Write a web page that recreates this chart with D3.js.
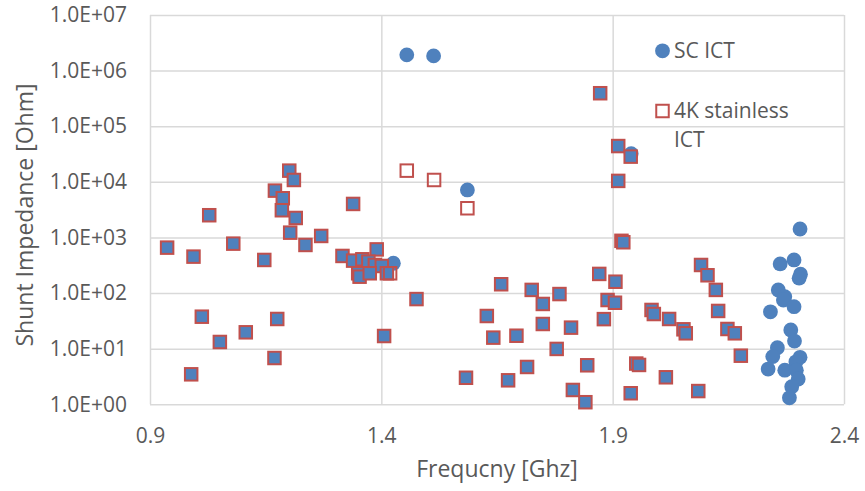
<!DOCTYPE html>
<html>
<head>
<meta charset="utf-8">
<script src="https://cdn.jsdelivr.net/npm/d3@7"></script>
<style>
    body { margin: 0; background: #fff; }
    text { font-family: "Open Sans", sans-serif; fill: #595959; }
</style>
</head>
<body>
<div id="chartContainer"></div>
<script>
// points where both ICTs give the same value (drawn as filled squares)
const sharedFreq = [0.937, 0.994, 1.028, 1.080, 1.147, 1.201, 1.211, 1.170, 1.187, 1.185,
    1.215, 1.203, 1.236, 1.270, 1.339, 1.316, 1.390, 1.012, 1.051, 1.107,
    1.175, 1.169, 0.989, 1.406, 1.339, 1.359, 1.372, 1.386, 1.401, 1.350,
    1.353, 1.375, 1.412, 1.476, 1.659, 1.725, 1.749, 1.785, 1.871, 1.906,
    1.889, 1.905, 1.881, 1.628, 1.642, 1.692, 1.749, 1.810, 1.779, 1.583,
    1.674, 1.715, 1.845, 1.814, 1.841, 1.939, 1.951, 1.957, 2.015, 2.085,
    1.984, 1.989, 2.022, 2.053, 2.058, 2.091, 2.105, 2.123, 2.128, 2.148,
    2.164, 2.177, 1.873, 1.912, 1.939, 1.912, 1.919, 1.923];
const sharedZ = [656, 452, 2510, 774, 394, 15900, 10800, 6950, 5070, 3085,
    2240, 1220, 733, 1064, 4005, 465, 610, 37.6, 13.2, 19.7,
    34.2, 6.8, 3.46, 16.9, 383, 405, 367, 320, 307, 227,
    197, 227, 227, 78, 144, 114, 63.7, 96, 221, 160,
    75, 67, 34, 38.7, 15.8, 17.1, 27.8, 23.9, 9.9, 3.0,
    2.7, 4.69, 5.03, 1.81, 1.09, 1.58, 5.4, 5.1, 3.06, 1.73,
    49.7, 42, 34.2, 22.3, 18.9, 320, 209, 114, 47.7, 22.6,
    18.9, 7.48, 392000, 44000, 28400, 10400, 870, 820];

// SC ICT only
const scFreq = [1.455, 1.513, 1.586, 1.940, 1.426, 2.305, 2.262, 2.292, 2.306, 2.303,
    2.258, 2.272, 2.269, 2.292, 2.241, 2.285, 2.293, 2.256, 2.246, 2.305,
    2.296, 2.236, 2.272, 2.297, 2.301, 2.287, 2.282];
const scZ = [1920000, 1840000, 7150, 32000, 344, 1420, 334, 394, 218, 185,
    114, 86, 75, 57, 46, 21.7, 13.7, 10.4, 7.2, 7.0,
    5.8, 4.3, 4.1, 4.1, 2.85, 2.07, 1.31];

// 4K stainless ICT only
const ssFreq = [1.455, 1.514, 1.586, 1.419];
const ssZ = [15900, 10800, 3350, 227];

const xTicks = [0.9, 1.4, 1.9, 2.4];
const xTickLabels = ["0.9", "1.4", "1.9", "2.4"];
const yTicks = [1, 10, 100, 1000, 10000, 100000, 1000000, 10000000];
const yTickLabels = ["1.0E+00", "1.0E+01", "1.0E+02", "1.0E+03", "1.0E+04", "1.0E+05", "1.0E+06", "1.0E+07"];
const legendLabels = ["SC ICT", "4K stainless", "ICT"];

const width = 865;
const height = 491;
const plotLeft = 150, plotRight = 844, plotTop = 15, plotBottom = 404.3;
const blue = '#4f81bd';
const red = '#c0504d';
const gridColor = '#d9d9d9';

const svg = d3.select("#chartContainer")
    .append('svg')
    .attr("width", width)
    .attr("height", height);

const x = d3.scaleLinear().domain([0.9, 2.4]).range([plotLeft, plotRight]);
const y = d3.scaleLog().domain([1, 1e7]).range([plotBottom, plotTop]);

// grid
const yGrid = svg.append('g')
    .attr("transform", `translate(${plotLeft},0)`)
    .call(d3.axisLeft(y).tickValues(yTicks).tickSize(-(plotRight - plotLeft)).tickFormat(""));
const xGrid = svg.append('g')
    .attr("transform", `translate(0,${plotBottom})`)
    .call(d3.axisBottom(x).tickValues(xTicks).tickSize(-(plotBottom - plotTop)).tickFormat(""));
[yGrid, xGrid].forEach(g => {
    g.select(".domain").remove();
    g.selectAll("line").attr("stroke", gridColor).attr("stroke-width", 1.5);
});

// tick labels
const yAxis = svg.append('g')
    .attr("transform", `translate(${plotLeft},0)`)
    .call(d3.axisLeft(y).tickValues(yTicks).tickSize(0).tickPadding(23)
        .tickFormat((d, i) => yTickLabels[i]));
const xAxis = svg.append('g')
    .attr("transform", `translate(0,${plotBottom})`)
    .call(d3.axisBottom(x).tickValues(xTicks).tickSize(0).tickPadding(24)
        .tickFormat((d, i) => xTickLabels[i]));
[yAxis, xAxis].forEach(g => {
    g.select(".domain").remove();
    g.selectAll("text").attr("font-size", 21).attr("font-family", '"Open Sans", sans-serif').attr("fill", '#595959');
});

// axis titles
svg.append('text')
    .attr("x", (plotLeft + plotRight) / 2)
    .attr("y", 477)
    .attr("text-anchor", "middle")
    .attr("font-size", 23)
    .text("Frequcny [Ghz]");
svg.append('text')
    .attr("transform", "translate(33,215) rotate(-90)")
    .attr("text-anchor", "middle")
    .attr("font-size", 23)
    .text("Shunt Impedance [Ohm]");

const sq = 12.5;

// SC ICT circles
svg.append('g')
    .selectAll("circle")
    .data(scFreq.map((f, i) => [f, scZ[i]]))
    .enter()
    .append("circle")
    .attr("cx", d => x(d[0]))
    .attr("cy", d => y(d[1]))
    .attr("r", 7.4)
    .attr("fill", blue);

// shared points
svg.append('g')
    .selectAll("rect")
    .data(sharedFreq.map((f, i) => [f, sharedZ[i]]))
    .enter()
    .append("rect")
    .attr("x", d => x(d[0]) - sq / 2)
    .attr("y", d => y(d[1]) - sq / 2)
    .attr("width", sq)
    .attr("height", sq)
    .attr("fill", blue)
    .attr("stroke", red)
    .attr("stroke-width", 2);

// 4K stainless only
svg.append('g')
    .selectAll("rect")
    .data(ssFreq.map((f, i) => [f, ssZ[i]]))
    .enter()
    .append("rect")
    .attr("x", d => x(d[0]) - sq / 2)
    .attr("y", d => y(d[1]) - sq / 2)
    .attr("width", sq)
    .attr("height", sq)
    .attr("fill", "none")
    .attr("stroke", red)
    .attr("stroke-width", 2);

// legend
svg.append('circle')
    .attr("cx", 662.5)
    .attr("cy", 50.8)
    .attr("r", 7.4)
    .attr("fill", blue);
svg.append('rect')
    .attr("x", 662.5 - sq / 2)
    .attr("y", 111 - sq / 2)
    .attr("width", sq)
    .attr("height", sq)
    .attr("fill", "none")
    .attr("stroke", red)
    .attr("stroke-width", 2);
svg.selectAll("legendLabels")
    .data(legendLabels)
    .enter()
    .append("text")
    .attr("x", 674)
    .attr("y", (d, i) => [58, 118, 147][i])
    .attr("font-size", 21)
    .text(d => d);
</script>
</body>
</html>
